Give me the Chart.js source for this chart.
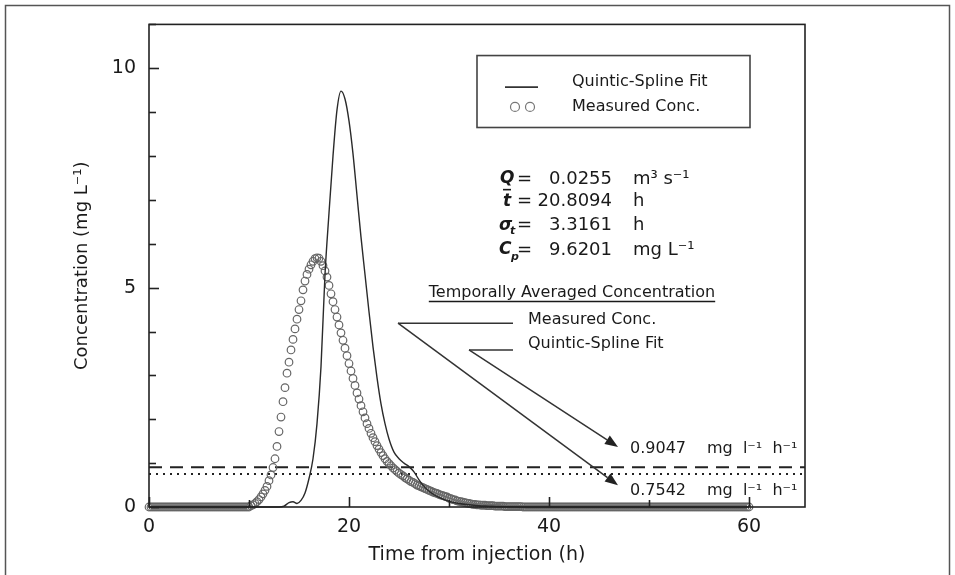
<!DOCTYPE html>
<html>
<head>
<meta charset="utf-8">
<script src="https://cdn.jsdelivr.net/npm/chart.js@4.4.0/dist/chart.umd.min.js"></script>
<style>
  html, body { margin: 0; padding: 0; background: #fff; }
  #wrap { width: 955px; height: 575px; position: relative; }
</style>
</head>
<body>
<div id="wrap"><canvas id="tracerChart" width="955" height="575"></canvas></div>
<script>
// Measured concentration, sampled every 0.2 h from t = 0 h (mg/L)
const measuredStart = 0;
const measuredStep = 0.2;
const measuredConc = [
  0, 0, 0, 0, 0, 0, 0, 0, 0, 0,                      // 0 - 1.8
  0, 0, 0, 0, 0, 0, 0, 0, 0, 0,                      // 2 - 3.8
  0, 0, 0, 0, 0, 0, 0, 0, 0, 0,                      // 4 - 5.8
  0, 0, 0, 0, 0, 0, 0, 0, 0, 0,                      // 6 - 7.8
  0, 0, 0, 0, 0, 0, 0, 0, 0, 0,                      // 8 - 9.8
  0, 0.03, 0.05, 0.08, 0.12, 0.17, 0.23, 0.3, 0.38, 0.47,
  0.6, 0.73, 0.9, 1.1, 1.38, 1.72, 2.05, 2.4, 2.72, 3.05,
  3.3, 3.58, 3.82, 4.06, 4.28, 4.5, 4.7, 4.95, 5.15, 5.3,
  5.42, 5.52, 5.6, 5.66, 5.68, 5.67, 5.6, 5.5, 5.38, 5.24,
  5.05, 4.86, 4.68, 4.5, 4.33, 4.15, 3.97, 3.8, 3.62, 3.45,
  3.27, 3.1, 2.93, 2.77, 2.6, 2.46, 2.31, 2.17, 2.03, 1.9,
  1.79, 1.68, 1.58, 1.49, 1.4, 1.32, 1.24, 1.17, 1.1, 1.04,
  0.99, 0.94, 0.89, 0.85, 0.81, 0.77, 0.74, 0.71, 0.67, 0.64,
  0.61, 0.58, 0.56, 0.53, 0.5, 0.48, 0.46, 0.44, 0.42, 0.4,
  0.38, 0.36, 0.34, 0.32, 0.31, 0.29, 0.27, 0.26, 0.24, 0.23,
  0.2, 0.19, 0.17, 0.16, 0.14, 0.13, 0.12, 0.11, 0.1, 0.09,
  0.08, 0.07, 0.06, 0.06, 0.05, 0.05, 0.04, 0.04, 0.04, 0.03,
  0.03, 0.03, 0.03, 0.02, 0.02, 0.02, 0.02, 0.02, 0.01, 0.01,
  0.01, 0.01, 0.01, 0.01, 0.01, 0.01, 0.01, 0, 0, 0,
  0, 0, 0, 0, 0, 0, 0, 0, 0, 0,                      // 38 - 39.8
  0, 0, 0, 0, 0, 0, 0, 0, 0, 0,                      // 40 - 41.8
  0, 0, 0, 0, 0, 0, 0, 0, 0, 0,
  0, 0, 0, 0, 0, 0, 0, 0, 0, 0,
  0, 0, 0, 0, 0, 0, 0, 0, 0, 0,
  0, 0, 0, 0, 0, 0, 0, 0, 0, 0,
  0, 0, 0, 0, 0, 0, 0, 0, 0, 0,
  0, 0, 0, 0, 0, 0, 0, 0, 0, 0,
  0, 0, 0, 0, 0, 0, 0, 0, 0, 0,
  0, 0, 0, 0, 0, 0, 0, 0, 0, 0,
  0, 0, 0, 0, 0, 0, 0, 0, 0, 0,                      // 58 - 59.8
  0
];

// Quintic-spline fit (h, mg/L)
const splineTime = [0, 5, 10, 13, 13.5, 14.0, 14.4, 14.8, 15.2, 15.6, 16.0, 16.4, 16.8, 17.2, 17.6,
  18.0, 18.4, 18.8, 19.2, 19.6, 20.0, 20.4, 20.8, 21.2, 21.6, 22.0, 22.4, 22.8, 23.2, 23.6,
  24.0, 24.5, 25.0, 25.5, 26.0, 26.5, 27.0, 27.5, 28, 29, 30, 31, 32, 33, 34, 35, 40, 50, 60];
const splineConc = [0, 0, 0, 0, 0.02, 0.1, 0.12, 0.08, 0.15, 0.32, 0.65, 1.1, 1.9, 3.2, 5.3,
  6.7, 8.0, 9.05, 9.48, 9.3, 8.8, 8.05, 7.1, 6.15, 5.3, 4.45, 3.65, 2.95, 2.35, 1.9,
  1.55, 1.25, 1.1, 1.0, 0.92, 0.8, 0.62, 0.47, 0.36, 0.22, 0.13, 0.08, 0.05, 0.03, 0.02, 0.01, 0, 0, 0];

// Temporally averaged concentrations (mg l-1 h-1)
const avgLabels = ['Quintic-Spline Fit', 'Measured Conc.'];
const avgValues = [0.9047, 0.7542];

// Fit parameters
const paramValues = ['0.0255', '20.8094', '3.3161', '9.6201'];
const paramUnits = ['m³ s⁻¹', 'h', 'h', 'mg L⁻¹'];

const xMax = 65.6;
const yMax = 11;
const FONT = 'DejaVu Sans';
const INK = '#1a1a1a';

const measuredPoints = measuredConc.map((c, i) => ({ x: measuredStart + i * measuredStep, y: c }));
const splinePoints = splineTime.map((t, i) => ({ x: t, y: splineConc[i] }));
const levelPoints = avgValues.map(v => [{ x: 0, y: v }, { x: xMax, y: v }]);

function drawArrow(ctx, x0, y0, x1, y1) {
  const ang = Math.atan2(y1 - y0, x1 - x0);
  const len = 13, half = 5;
  const bx = x1 - len * Math.cos(ang), by = y1 - len * Math.sin(ang);
  ctx.beginPath();
  ctx.moveTo(x0, y0);
  ctx.lineTo(bx, by);
  ctx.stroke();
  ctx.beginPath();
  ctx.moveTo(x1, y1);
  ctx.lineTo(bx + half * Math.sin(ang), by - half * Math.cos(ang));
  ctx.lineTo(bx - half * Math.sin(ang), by + half * Math.cos(ang));
  ctx.closePath();
  ctx.fill();
}

const decorations = {
  id: 'decorations',
  afterDraw(chart) {
    const ctx = chart.ctx;
    const xs = chart.scales.x, ys = chart.scales.y;
    const px = t => xs.getPixelForValue(t);
    const py = c => ys.getPixelForValue(c);
    const area = chart.chartArea;

    ctx.save();
    // outer figure frame
    ctx.strokeStyle = '#555';
    ctx.lineWidth = 1.5;
    ctx.strokeRect(5.5, 5.5, 944, 620);

    // plot box
    ctx.strokeStyle = '#222';
    ctx.lineWidth = 1.6;
    ctx.strokeRect(area.left, area.top, area.right - area.left, area.bottom - area.top);

    // inward tick marks
    ys.ticks.forEach(tk => {
      if (!Number.isInteger(tk.value)) return;
      const y = Math.round(py(tk.value)) + 0.5;
      const len = tk.value % 5 === 0 ? 10 : 7;
      ctx.beginPath();
      ctx.moveTo(area.left, y);
      ctx.lineTo(area.left + len, y);
      ctx.stroke();
    });
    xs.ticks.forEach(tk => {
      if (tk.value % 10 !== 0 || tk.value > 60) return;
      const x = Math.round(px(tk.value)) + 0.5;
      const len = tk.value % 20 === 0 ? 10 : 7;
      ctx.beginPath();
      ctx.moveTo(x, area.bottom);
      ctx.lineTo(x, area.bottom - len);
      ctx.stroke();
    });

    // legend box
    ctx.strokeStyle = '#444';
    ctx.lineWidth = 1.6;
    ctx.strokeRect(px(32.8), py(10.29), px(60.1) - px(32.8), py(8.65) - py(10.29));
    ctx.strokeStyle = '#333';
    ctx.beginPath();
    ctx.moveTo(px(35.6), py(9.57));
    ctx.lineTo(px(38.9), py(9.57));
    ctx.stroke();
    ctx.strokeStyle = '#777';
    ctx.lineWidth = 1.2;
    [36.6, 38.1].forEach(t => {
      ctx.beginPath();
      ctx.arc(px(t), py(9.12), 4.5, 0, Math.PI * 2);
      ctx.stroke();
    });
    ctx.fillStyle = INK;
    ctx.font = '16px ' + FONT;
    ctx.textAlign = 'left';
    ctx.textBaseline = 'middle';
    ctx.fillText('Quintic-Spline Fit', px(42.3), py(9.68));
    ctx.fillText('Measured Conc.', px(42.3), py(9.12));

    // parameter block
    const rows = [7.48, 6.96, 6.42, 5.86];
    const lx = px(35.1);
    ctx.font = 'bold italic 17px ' + FONT;
    ctx.fillText('Q', lx, py(rows[0]));
    ctx.fillText('t', lx + 3, py(rows[1]));
    ctx.fillText('σ', lx - 1, py(rows[2]));
    ctx.fillText('C', lx - 1, py(rows[3]));
    ctx.font = 'bold italic 11px ' + FONT;
    ctx.fillText('t', lx + 10, py(rows[2]) + 6);
    ctx.fillText('p', lx + 11, py(rows[3]) + 7);
    ctx.lineWidth = 1.6;
    ctx.strokeStyle = INK;
    ctx.beginPath();
    ctx.moveTo(lx + 3, py(rows[1]) - 12);
    ctx.lineTo(lx + 11, py(rows[1]) - 12);
    ctx.stroke();
    ctx.font = '18px ' + FONT;
    rows.forEach((r, i) => {
      ctx.textAlign = 'left';
      ctx.fillText('=', px(36.8), py(r));
      ctx.textAlign = 'right';
      ctx.fillText(paramValues[i], px(46.3), py(r));
      ctx.textAlign = 'left';
      ctx.fillText(paramUnits[i], px(48.4), py(r));
    });

    // averaged concentration heading
    ctx.font = '16px ' + FONT;
    ctx.textAlign = 'center';
    const head = 'Temporally Averaged Concentration';
    ctx.fillText(head, px(42.3), py(4.89));
    const hw = ctx.measureText(head).width;
    ctx.lineWidth = 1.4;
    ctx.beginPath();
    ctx.moveTo(px(42.3) - hw / 2, py(4.89) + 9);
    ctx.lineTo(px(42.3) + hw / 2, py(4.89) + 9);
    ctx.stroke();
    ctx.textAlign = 'left';
    ctx.fillText('Measured Conc.', px(37.9), py(4.26));
    ctx.fillText('Quintic-Spline Fit', px(37.9), py(3.72));

    // leader lines with arrows
    ctx.strokeStyle = '#333';
    ctx.fillStyle = '#222';
    ctx.lineWidth = 1.5;
    ctx.beginPath();
    ctx.moveTo(px(24.9), py(4.19));
    ctx.lineTo(px(36.4), py(4.19));
    ctx.moveTo(px(32.0), py(3.58));
    ctx.lineTo(px(36.4), py(3.58));
    ctx.stroke();
    drawArrow(ctx, px(24.9), py(4.19), px(46.9), py(0.495));
    drawArrow(ctx, px(32.0), py(3.58), px(46.9), py(1.37));

    // level labels
    ctx.fillStyle = INK;
    ctx.font = '16px ' + FONT;
    ctx.fillText(avgValues[0].toFixed(4), px(48.1), py(1.33));
    ctx.fillText('mg  l⁻¹  h⁻¹', px(55.8), py(1.33));
    ctx.fillText(avgValues[1].toFixed(4), px(48.1), py(0.36));
    ctx.fillText('mg  l⁻¹  h⁻¹', px(55.8), py(0.36));
    ctx.restore();
  }
};

new Chart(document.getElementById('tracerChart').getContext('2d'), {
  type: 'line',
  data: {
    datasets: [
      {
        label: 'Quintic-Spline Fit',
        data: splinePoints,
        borderColor: '#2a2a2a',
        borderWidth: 1.4,
        cubicInterpolationMode: 'monotone',
        pointRadius: 0,
        fill: false,
        clip: false
      },
      {
        label: 'Measured Conc.',
        data: measuredPoints,
        showLine: false,
        pointStyle: 'circle',
        pointRadius: 3.8,
        pointBorderWidth: 1.2,
        pointBorderColor: '#666666',
        pointBackgroundColor: 'rgba(0,0,0,0)',
        clip: false
      },
      {
        label: avgLabels[0] + ' average',
        data: levelPoints[0],
        borderColor: '#222',
        borderWidth: 2,
        borderDash: [13, 8],
        pointRadius: 0
      },
      {
        label: avgLabels[1] + ' average',
        data: levelPoints[1],
        borderColor: '#222',
        borderWidth: 2,
        borderDash: [2, 5],
        pointRadius: 0
      }
    ]
  },
  options: {
    responsive: false,
    animation: false,
    layout: { padding: { top: 18, right: 150, left: 0, bottom: 0 } },
    scales: {
      x: {
        type: 'linear',
        min: 0,
        max: xMax,
        afterFit: scale => { scale.height = 68; },
        ticks: {
          stepSize: 10,
          includeBounds: false,
          autoSkip: false,
          maxRotation: 0,
          padding: 9,
          color: INK,
          font: { family: FONT, size: 19 },
          callback: v => (v % 20 === 0 && v <= 60 ? String(v) : '')
        },
        grid: { display: false, drawTicks: false },
        border: { display: false },
        title: {
          display: true,
          text: 'Time from injection (h)',
          color: INK,
          font: { family: FONT, size: 19 },
          padding: { top: 0, bottom: 9 }
        }
      },
      y: {
        type: 'linear',
        min: 0,
        max: yMax,
        afterFit: scale => { scale.width = 149; },
        ticks: {
          stepSize: 1,
          autoSkip: false,
          padding: 13,
          color: INK,
          font: { family: FONT, size: 19 },
          callback: v => (v % 5 === 0 ? String(v) : '')
        },
        grid: { display: false, drawTicks: false },
        border: { display: false },
        title: {
          display: true,
          text: 'Concentration (mg L⁻¹)',
          color: INK,
          font: { family: FONT, size: 18 },
          padding: { top: 72, bottom: 0 }
        }
      }
    },
    plugins: {
      legend: { display: false },
      tooltip: { enabled: false }
    }
  },
  plugins: [decorations]
});
</script>
</body>
</html>
